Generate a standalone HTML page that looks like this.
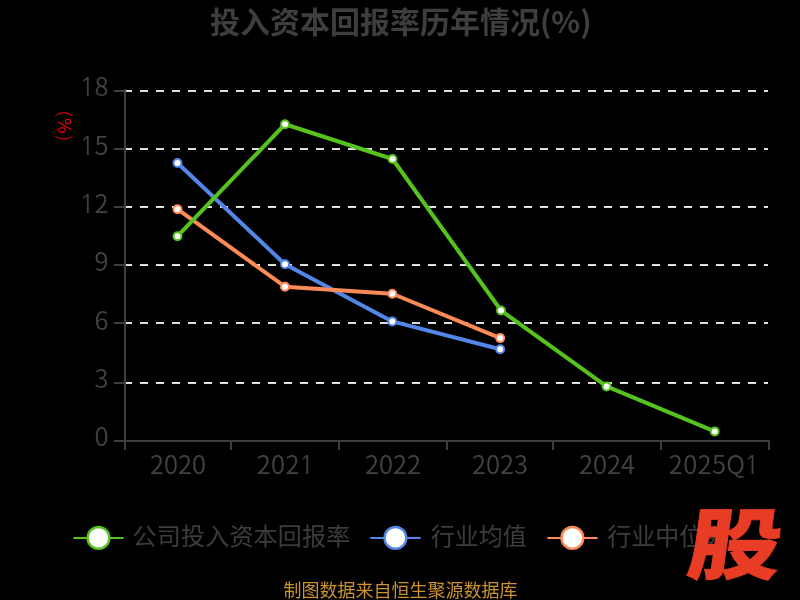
<!DOCTYPE html>
<html lang="zh-CN">
<head>
<meta charset="utf-8">
<title>投入资本回报率历年情况(%)</title>
<style>
html,body{margin:0;padding:0;background:#000;width:800px;height:600px;overflow:hidden;}
svg{display:block;will-change:transform;}
text{font-family:"Liberation Sans","Noto Sans CJK SC",sans-serif;}
.cjk,.cjk text{font-family:"Noto Sans CJK SC","Liberation Sans",sans-serif;}
</style>
</head>
<body>
<svg width="800" height="600" viewBox="0 0 800 600">
<rect x="0" y="0" width="800" height="600" fill="#000"/>
<!-- title -->
<text class="cjk" x="210" y="33" font-size="30" font-weight="bold" fill="#3e3e3e">投入资本回报率历年情况(%)</text>
<!-- y axis name -->
<text x="0" y="0" font-size="17" fill="#ff0000" text-anchor="middle" style="font-family:NanumGothic,'Liberation Sans',sans-serif" transform="translate(57.6,125.8) rotate(90)">(%)</text>
<!-- grid lines -->
<g stroke="#dddddd" stroke-width="2" stroke-dasharray="8 8">
<line x1="124" y1="91" x2="768" y2="91"/>
<line x1="124" y1="149" x2="768" y2="149"/>
<line x1="124" y1="207" x2="768" y2="207"/>
<line x1="124" y1="265" x2="768" y2="265"/>
<line x1="124" y1="323" x2="768" y2="323"/>
<line x1="124" y1="383" x2="768" y2="383"/>
</g>
<!-- axes -->
<g stroke="#3d3d3d" stroke-width="2">
<line x1="125" y1="89" x2="125" y2="450"/>
<line x1="114" y1="441" x2="770" y2="441"/>
<line x1="114" y1="91" x2="125" y2="91"/>
<line x1="114" y1="149" x2="125" y2="149"/>
<line x1="114" y1="207" x2="125" y2="207"/>
<line x1="114" y1="265" x2="125" y2="265"/>
<line x1="114" y1="323" x2="125" y2="323"/>
<line x1="114" y1="383" x2="125" y2="383"/>
<line x1="231" y1="441" x2="231" y2="450"/>
<line x1="339" y1="441" x2="339" y2="450"/>
<line x1="447" y1="441" x2="447" y2="450"/>
<line x1="553" y1="441" x2="553" y2="450"/>
<line x1="661" y1="441" x2="661" y2="450"/>
<line x1="769" y1="441" x2="769" y2="450"/>
</g>
<!-- y labels -->
<g class="cjk" font-size="25.5" font-weight="350" fill="#424242" text-anchor="end">
<text x="108.6" y="96.2"><tspan font-family="NanumGothic" font-weight="400">1</tspan>8</text>
<text x="108.6" y="154.5"><tspan font-family="NanumGothic" font-weight="400">1</tspan>5</text>
<text x="108.6" y="212.9"><tspan font-family="NanumGothic" font-weight="400">1</tspan>2</text>
<text x="108.6" y="271.2">9</text>
<text x="108.6" y="329.5">6</text>
<text x="108.6" y="387.8">3</text>
<text x="108.6" y="446.1">0</text>
</g>
<!-- x labels -->
<g class="cjk" font-size="25.5" font-weight="350" fill="#424242" text-anchor="middle">
<text x="178" y="474.1">2020</text>
<text x="285.6" y="474.1" letter-spacing="0.35">202<tspan dx="-1.2" font-family="NanumGothic" font-weight="400">1</tspan></text>
<text x="393" y="474.1">2022</text>
<text x="500" y="474.1">2023</text>
<text x="607" y="474.1">2024</text>
<text x="714.3" y="474.1" letter-spacing="0.35">2025Q<tspan dx="-1.5" font-family="NanumGothic" font-weight="400">1</tspan></text>
</g>
<!-- series lines -->
<g fill="none" stroke-width="4" stroke-linejoin="round">
<polyline stroke="#5286e8" points="177.5,163 285,264.3 392.3,321.4 500.2,349.2"/>
<polyline stroke="#fd8a57" points="177.5,209.2 285,286.7 392.3,293.75 500.2,338.1"/>
<polyline stroke="#55c21e" points="177.5,236.2 285,124.25 392.5,159 501,310.5 606.6,386.4 714.7,431.4"/>
</g>
<!-- symbols -->
<g fill="#fff" stroke-width="2">
<g stroke="#5286e8">
<circle cx="177.5" cy="163" r="4"/><circle cx="285" cy="264.3" r="4"/><circle cx="392.3" cy="321.4" r="4"/><circle cx="500.2" cy="349.2" r="4"/>
</g>
<g stroke="#fd8a57">
<circle cx="177.5" cy="209.2" r="4"/><circle cx="285" cy="286.7" r="4"/><circle cx="392.3" cy="293.75" r="4"/><circle cx="500.2" cy="338.1" r="4"/>
</g>
<g stroke="#55c21e">
<circle cx="177.5" cy="236.2" r="4"/><circle cx="285" cy="124.25" r="4"/><circle cx="392.5" cy="159" r="4"/><circle cx="501" cy="310.5" r="4"/><circle cx="606.6" cy="386.4" r="4"/><circle cx="714.7" cy="431.4" r="4"/>
</g>
</g>
<!-- legend -->
<g stroke-width="2">
<line x1="73.4" y1="537.9" x2="123.6" y2="537.9" stroke="#55c21e"/>
<circle cx="98.5" cy="537.9" r="10.9" fill="#fff" stroke="#55c21e" stroke-width="2.4"/>
<line x1="370.3" y1="537.9" x2="420.6" y2="537.9" stroke="#5286e8"/>
<circle cx="395.4" cy="537.9" r="10.9" fill="#fff" stroke="#5286e8" stroke-width="2.4"/>
<line x1="547.3" y1="537.9" x2="597.6" y2="537.9" stroke="#fd8a57"/>
<circle cx="572.4" cy="537.9" r="10.9" fill="#fff" stroke="#fd8a57" stroke-width="2.4"/>
</g>
<g class="cjk" font-size="24" fill="#3d3d3d">
<text x="132.6" y="544.6" letter-spacing="0.2">公司投入资本回报率</text>
<text x="430.7" y="544.6">行业均值</text>
<text x="607.2" y="544.6">行业中位数</text>
</g>
<!-- footer -->
<text class="cjk" x="283.5" y="596.7" font-size="18" fill="#cc922c">制图数据来自恒生聚源数据库</text>
<!-- logo -->
<text x="0" y="0" font-size="81" font-weight="900" fill="#e83c25" style="font-family:'Noto Sans CJK SC',sans-serif" stroke="#e83c25" stroke-width="0.8" stroke-linejoin="miter" transform="translate(685,573) skewX(-8) scale(1.15,0.958)">股</text>
</svg>
</body>
</html>
